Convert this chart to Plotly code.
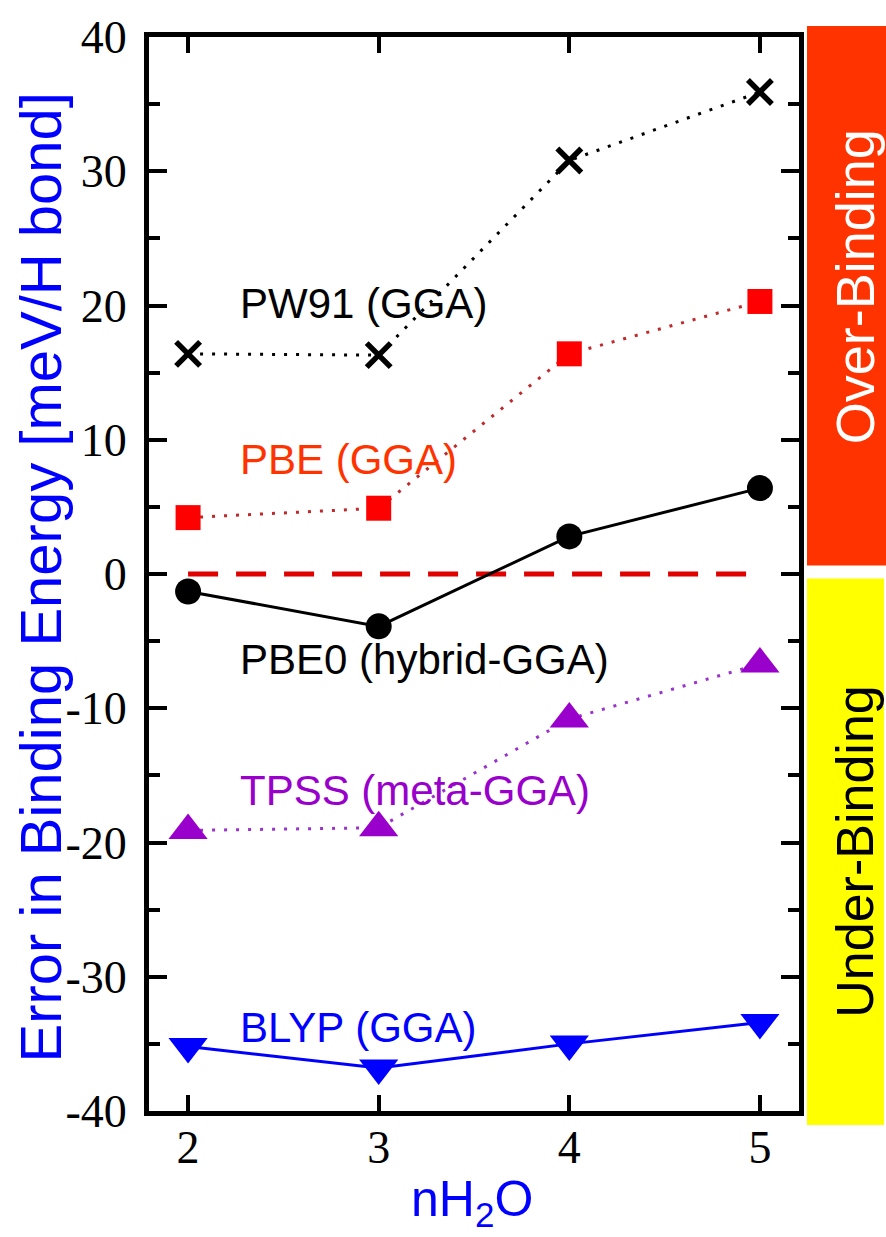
import plotly.graph_objects as go

# Cluster size (number of water molecules)
n_water = [2, 3, 4, 5]

# Error in binding energy per hydrogen bond (meV/H bond)
pw91 = [16.4, 16.3, 30.8, 35.9]
pbe = [4.2, 4.9, 16.4, 20.3]
pbe0 = [-1.3, -3.9, 2.8, 6.4]
tpss = [-19.1, -18.9, -10.8, -6.7]
blyp = [-35.2, -36.8, -35.0, -33.4]
reference = [0, 0, 0, 0]

y_ticks = [-40, -30, -20, -10, 0, 10, 20, 30, 40]
x_ticks = [2, 3, 4, 5]

fig = go.Figure()

# zero line: exact agreement with the reference
fig.add_trace(go.Scatter(
    x=n_water, y=reference, mode="lines",
    line=dict(color="#E00000", width=5, dash="30px,18px"),
    showlegend=False, hoverinfo="skip"))

fig.add_trace(go.Scatter(
    x=n_water, y=pw91, mode="lines+markers", name="PW91 (GGA)",
    line=dict(color="#000000", width=3, dash="3px,9px"),
    marker=dict(symbol="x-thin", size=24, color="#000000",
                line=dict(color="#000000", width=5.5))))

fig.add_trace(go.Scatter(
    x=n_water, y=pbe, mode="lines+markers", name="PBE (GGA)",
    line=dict(color="#C0282A", width=3, dash="3px,9px"),
    marker=dict(symbol="square", size=25, color="#FF0000")))

fig.add_trace(go.Scatter(
    x=n_water, y=pbe0, mode="lines+markers", name="PBE0 (hybrid-GGA)",
    line=dict(color="#000000", width=3),
    marker=dict(symbol="circle", size=26, color="#000000")))

fig.add_trace(go.Scatter(
    x=n_water, y=tpss, mode="lines+markers", name="TPSS (meta-GGA)",
    line=dict(color="#9933CC", width=3, dash="3px,9px"),
    marker=dict(symbol="triangle-up", size=34, color="#9900CC")))

fig.add_trace(go.Scatter(
    x=n_water, y=blyp, mode="lines+markers", name="BLYP (GGA)",
    line=dict(color="#0000FF", width=3),
    marker=dict(symbol="triangle-down", size=34, color="#0000FF")))

sans = "Liberation Sans, Arial, sans-serif"
serif = "Liberation Serif, Times New Roman, serif"

# series labels, placed next to their curves (data coordinates)
def px_to_data(px, py):
    return 2 + (px - 188) / 190.7, (569 - py) / 13.55

labels = [
    ("PW91 (GGA)", "#000000", 238, 296),
    ("PBE (GGA)", "#FF3300", 238, 453),
    ("PBE0 (hybrid-GGA)", "#000000", 238, 655),
    ("TPSS (meta-GGA)", "#9900CC", 238, 788),
    ("BLYP (GGA)", "#0000FF", 238, 1027),
]
annotations = []
for text, color, px, py in labels:
    ax, ay = px_to_data(px, py)
    annotations.append(dict(
        x=ax, y=ay, xref="x", yref="y", text=text, showarrow=False,
        xanchor="left", yanchor="middle",
        font=dict(family=sans, size=42, color=color)))

# axis titles
annotations.append(dict(
    x=(472 - 149) / 650, y=(1111 - 1203) / 1081, xref="paper", yref="paper",
    text="nH<sub>2</sub>O", showarrow=False, xanchor="center", yanchor="middle",
    font=dict(family=sans, size=50, color="#0000FF")))
annotations.append(dict(
    x=(40 - 149) / 650, y=(1111 - 574) / 1081, xref="paper", yref="paper",
    text="Error in Binding Energy [meV/H bond]", showarrow=False,
    textangle=-90, xanchor="center", yanchor="middle",
    font=dict(family=sans, size=58, color="#0000FF")))

# side bands marking over- and under-binding
annotations.append(dict(
    x=(855 - 149) / 650, y=(1111 - 282) / 1081, xref="paper", yref="paper",
    text="Over-Binding", showarrow=False, textangle=-90,
    xanchor="center", yanchor="middle",
    font=dict(family=sans, size=54, color="#FFFFFF")))
annotations.append(dict(
    x=(855 - 149) / 650, y=(1111 - 850) / 1081, xref="paper", yref="paper",
    text="Under-Binding", showarrow=False, textangle=-90,
    xanchor="center", yanchor="middle",
    font=dict(family=sans, size=52, color="#000000")))

shapes = [
    dict(type="rect", xref="paper", yref="paper",
         x0=(807 - 149) / 650, x1=(886 - 149) / 650,
         y0=(1111 - 562) / 1081, y1=(1111 - 19) / 1081,
         fillcolor="#FF3300", line=dict(width=0), layer="below"),
    dict(type="rect", xref="paper", yref="paper",
         x0=(807 - 149) / 650, x1=(884 - 149) / 650,
         y0=(1111 - 1125) / 1081, y1=(1111 - 575) / 1081,
         fillcolor="#FFFF00", line=dict(width=0), layer="below"),
]

fig.update_layout(
    width=886, height=1237,
    margin=dict(l=149, r=87, t=30, b=126, pad=0),
    paper_bgcolor="#FFFFFF", plot_bgcolor="#FFFFFF",
    showlegend=False,
    annotations=annotations, shapes=shapes,
    xaxis=dict(
        range=[1.795, 5.205], tickvals=x_ticks, ticktext=[str(v) for v in x_ticks],
        showgrid=False, zeroline=False,
        showline=True, linecolor="#000000", linewidth=5, mirror="allticks",
        ticks="inside", ticklen=16, tickwidth=4, tickcolor="#000000",
        tickfont=dict(family=serif, size=46, color="#000000"),
        ticklabelstandoff=-8),
    yaxis=dict(
        range=[-40, 40], tickvals=y_ticks, ticktext=[str(v) for v in y_ticks],
        showgrid=False, zeroline=False,
        showline=True, linecolor="#000000", linewidth=5, mirror="allticks",
        ticks="inside", ticklen=18, tickwidth=4, tickcolor="#000000",
        minor=dict(dtick=5, tick0=0, ticks="inside", ticklen=11, tickwidth=4,
                   tickcolor="#000000", showgrid=False),
        tickfont=dict(family=serif, size=46, color="#000000"),
        ticklabelstandoff=8),
)

fig.write_html("out.html")
